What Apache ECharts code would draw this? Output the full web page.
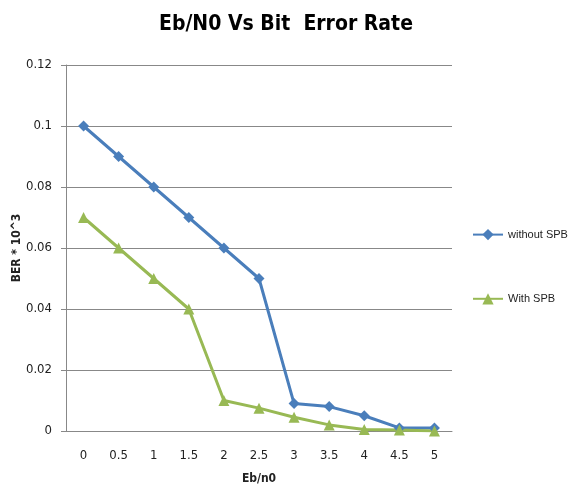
<!DOCTYPE html>
<html>
<head>
<meta charset="utf-8">
<script src="https://cdn.jsdelivr.net/npm/echarts@6/dist/echarts.min.js"></script>
<style>
  html, body { margin: 0; padding: 0; background: #fff; }
  #main { width: 571px; height: 488px; }
</style>
</head>
<body>
<div id="main"></div>
<script>
// data
const ebn0 = ['0', '0.5', '1', '1.5', '2', '2.5', '3', '3.5', '4', '4.5', '5'];
const withoutSPB = [0.1, 0.09, 0.08, 0.07, 0.06, 0.05, 0.009, 0.008, 0.005, 0.001, 0.001];
const withSPB = [0.07, 0.06, 0.05, 0.04, 0.01, 0.0075, 0.0045, 0.002, 0.0005, 0.0003, 0];

const FONT = "'DejaVu Sans Condensed', 'Liberation Sans', sans-serif";
const FONT2 = "'Liberation Sans', Arial, sans-serif";

const chart = echarts.init(document.getElementById('main'), null, { renderer: 'canvas' });

function line(name, data, color, symbol, size) {
  return {
    type: 'line', name, data,
    symbol, symbolSize: size,
    lineStyle: { color, width: 3 },
    itemStyle: { color },
    animation: false
  };
}

chart.setOption({
  backgroundColor: '#fff',
  title: {
    text: 'Eb/N0 Vs Bit  Error Rate',
    left: 281, top: 9, textAlign: 'center',
    textStyle: { fontFamily: FONT, fontSize: 21, fontWeight: 'bold', color: '#000' }
  },
  grid: { left: 66, right: 119, top: 65, bottom: 57, outerBoundsMode: 'none' },
  legend: {
    orient: 'vertical', left: 467, top: 224,
    itemWidth: 30, itemHeight: 14, itemGap: 53,
    textStyle: { fontFamily: FONT2, fontSize: 11, color: '#222' },
    data: ['without SPB', 'With SPB']
  },
  xAxis: {
    type: 'category', data: ebn0, boundaryGap: true,
    name: 'Eb/n0', nameLocation: 'middle', nameGap: 42, nameMoveOverlap: false,
    nameTextStyle: { fontFamily: FONT, fontSize: 12, fontWeight: 'bold', color: '#222' },
    axisLine: { lineStyle: { color: '#888' } },
    axisTick: { show: false },
    axisLabel: { fontFamily: FONT, fontSize: 13, color: '#222', margin: 18 }
  },
  yAxis: {
    type: 'value', min: 0, max: 0.12, interval: 0.02,
    name: 'BER * 10^3', nameLocation: 'middle', nameGap: 43, nameMoveOverlap: false,
    nameTextStyle: { fontFamily: FONT, fontSize: 12, fontWeight: 'bold', color: '#222' },
    axisLine: { show: true, lineStyle: { color: '#888' } },
    axisTick: { show: true, inside: false, length: 5, lineStyle: { color: '#888' } },
    axisLabel: { fontFamily: FONT, fontSize: 13, color: '#222', margin: 14 },
    splitLine: { lineStyle: { color: '#888' } }
  },
  series: [
    line('without SPB', withoutSPB, '#4a7ebb', 'diamond', 11),
    line('With SPB', withSPB, '#98b954', 'triangle', 11)
  ]
});
</script>
</body>
</html>
